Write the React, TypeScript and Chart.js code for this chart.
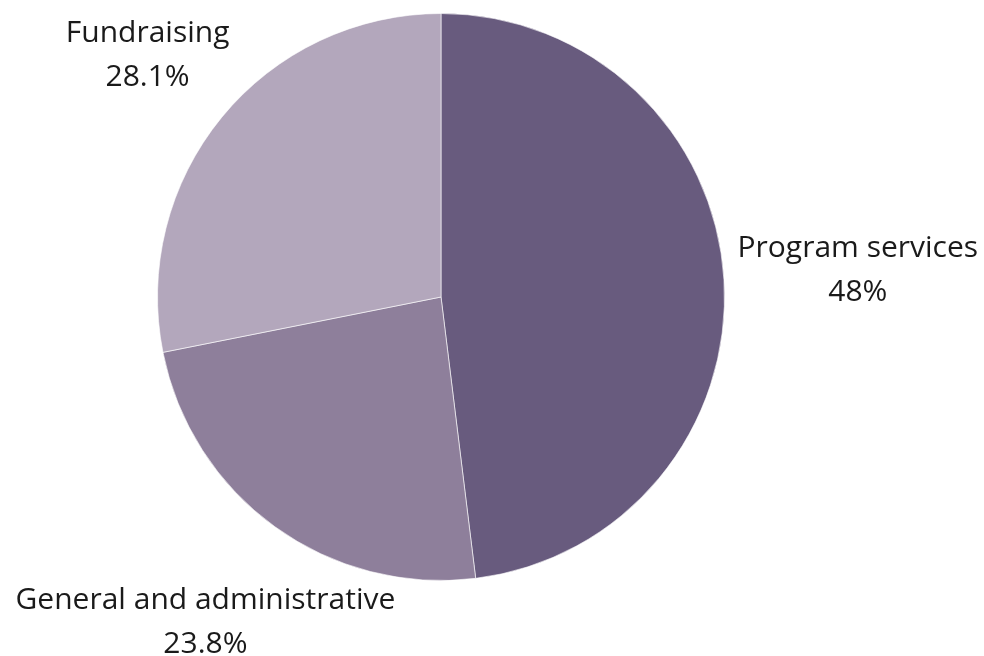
import React, { useEffect, useRef } from "react";
import { Chart, registerables } from "chart.js";

Chart.register(...registerables);

const categories = ["Program services", "General and administrative", "Fundraising"];
const values = [48, 23.8, 28.1];
const valueLabels = ["48%", "23.8%", "28.1%"];
const colors = ["#685b7e", "#8e7f9b", "#b3a7bc"];

const FONT = "30px 'Open Sans'";
const LINE_H = 44;
const PAD = 13;

const outsideLabels = {
  id: "outsideLabels",
  afterDatasetsDraw(chart: any) {
    const ctx = chart.ctx;
    const meta = chart.getDatasetMeta(0);
    ctx.save();
    ctx.font = FONT;
    ctx.fillStyle = "#1a1a1a";
    ctx.textAlign = "center";
    ctx.textBaseline = "alphabetic";
    meta.data.forEach((arc: any, i: number) => {
      const { x, y, startAngle, endAngle, outerRadius } = arc.getProps(
        ["x", "y", "startAngle", "endAngle", "outerRadius"],
        true
      );
      const mid = (startAngle + endAngle) / 2;
      const dx = Math.cos(mid);
      const dy = Math.sin(mid);
      const lines = [categories[i], valueLabels[i]];
      const w = Math.max(...lines.map((l) => ctx.measureText(l).width));
      const hw = w / 2;
      const hh = ((lines.length - 1) * LINE_H) / 2 + 11;
      const target = outerRadius + PAD;
      const nearest = (t: number) => {
        const cx = t * dx;
        const cy = t * dy;
        const nx = Math.max(cx - hw, Math.min(0, cx + hw));
        const ny = Math.max(cy - hh, Math.min(0, cy + hh));
        return Math.hypot(nx, ny);
      };
      let lo = 0;
      let hi = outerRadius + 1000;
      for (let k = 0; k < 60; k++) {
        const m = (lo + hi) / 2;
        if (nearest(m) < target) lo = m;
        else hi = m;
      }
      const cx = x + hi * dx;
      const cy = y + hi * dy;
      lines.forEach((l, j) => {
        ctx.fillText(l, cx, cy + (j - (lines.length - 1) / 2) * LINE_H + 8);
      });
    });
    ctx.restore();
  },
};

export default function App() {
  const ref = useRef<HTMLCanvasElement | null>(null);
  useEffect(() => {
    if (!ref.current) return;
    const chart = new Chart(ref.current, {
      type: "pie",
      data: {
        labels: categories,
        datasets: [
          {
            data: values,
            backgroundColor: colors,
            borderColor: "rgba(255,255,255,0.6)",
            borderWidth: 1,
          },
        ],
      },
      options: {
        animation: false,
        responsive: false,
        layout: { padding: { top: 13, bottom: 75, left: 157, right: 259 } },
        plugins: {
          legend: { display: false },
          tooltip: { enabled: false },
        },
      },
      plugins: [outsideLabels],
    });
    return () => chart.destroy();
  }, []);
  return (
    <div style={{ position: "fixed", left: 0, top: 0, width: 984, height: 656, background: "#fff" }}>
      <canvas ref={ref} width={984} height={656} style={{ width: 984, height: 656 }} />
    </div>
  );
}
